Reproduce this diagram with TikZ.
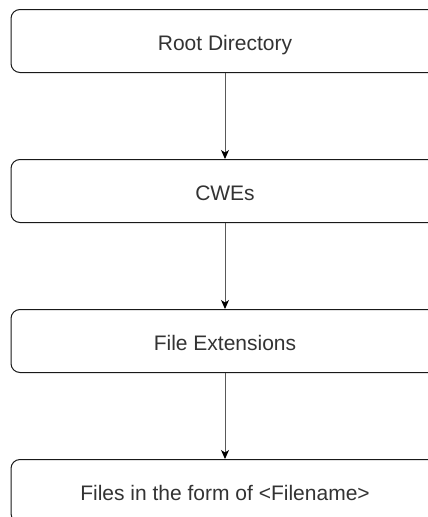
\documentclass[tikz,border=0pt]{standalone}
\usepackage{fontspec}
\setmainfont{Liberation Sans}
\usetikzlibrary{arrows.meta}
\begin{document}
\begin{tikzpicture}[x=1pt,y=-1pt,
  box/.style={draw=black!90, line width=1pt, rounded corners=9pt, fill=white,
    minimum width=428pt, minimum height=63pt, inner sep=0pt,
    text height=20pt, text depth=1.5pt,
    font=\fontsize{21}{25}\selectfont, text=black!80},
  conn/.style={draw=black!65, line width=1pt,
    -{Stealth[length=9pt,width=8pt,inset=2.5pt,color=black,fill=black]}}]
\useasboundingbox (0,0) rectangle (428,517);
\fill[white] (0,0) rectangle (428,517);
\clip (0,0) rectangle (428,517);
\node[box] (root) at (225,41) {Root Directory};
\node[box] (cwe) at (225,191) {CWEs};
\node[box] (ext) at (225,341) {File Extensions};
\node[box] (files) at (225,491) {Files in the form of <Filename>};
\draw[conn] (root) -- (cwe);
\draw[conn] (cwe) -- (ext);
\draw[conn] (ext) -- (files);
\end{tikzpicture}
\end{document}
